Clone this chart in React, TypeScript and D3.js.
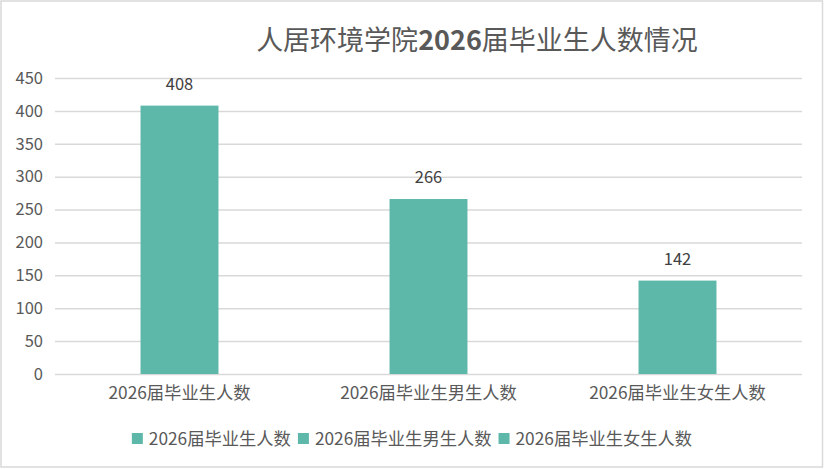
import { useEffect, useRef } from "react";
import * as d3 from "d3";

const categories = ["2026届毕业生人数", "2026届毕业生男生人数", "2026届毕业生女生人数"];
const values = [408, 266, 142];
const yTicks = [0, 50, 100, 150, 200, 250, 300, 350, 400, 450];
const titleParts = [
  { text: "人居环境学院", bold: false },
  { text: "2026", bold: true },
  { text: "届毕业生人数情况", bold: false },
];

const W = 824;
const H = 469;
const FONT = "'Noto Sans CJK SC', 'Noto Sans', sans-serif";
const BAR = "#5db8aa";
const TEXT = "#595959";

export default function App() {
  const ref = useRef<SVGSVGElement>(null);

  useEffect(() => {
    const svg = d3.select(ref.current);
    svg.selectAll("*").remove();

    const margin = { left: 55, right: 22, top: 78, bottom: 95 };

    const x = d3
      .scaleBand()
      .domain(categories)
      .range([margin.left, W - margin.right])
      .paddingInner(0.687)
      .paddingOuter(0.3435);

    const y = d3.scaleLinear().domain([0, 450]).range([H - margin.bottom, margin.top]);

    svg.append("rect").attr("width", W).attr("height", H).attr("fill", "white");
    svg
      .append("rect")
      .attr("x", 1)
      .attr("y", 1)
      .attr("width", W - 2.5)
      .attr("height", H - 3)
      .attr("fill", "none")
      .attr("stroke", "#d9d9d9")
      .attr("stroke-width", 1.5);

    // title
    const title = svg
      .append("text")
      .attr("x", 477)
      .attr("y", 50)
      .attr("text-anchor", "middle")
      .attr("font-family", FONT)
      .attr("font-size", 27)
      .attr("fill", TEXT);
    titleParts.forEach((p) =>
      title
        .append("tspan")
        .attr("font-weight", p.bold ? 600 : 400)
        .text(p.text)
    );

    // y axis + grid
    svg
      .append("g")
      .attr("transform", `translate(${margin.left},0)`)
      .call(
        d3
          .axisLeft(y)
          .tickValues(yTicks)
          .tickSize(-(W - margin.left - margin.right))
          .tickPadding(12)
      )
      .call((g) => g.select(".domain").remove())
      .call((g) => g.selectAll(".tick line").attr("stroke", "#d9d9d9").attr("stroke-width", 1.5))
      .call((g) =>
        g
          .selectAll(".tick text")
          .attr("font-family", FONT)
          .attr("font-size", 16.5)
          .attr("fill", TEXT)
      );

    // bars
    svg
      .append("g")
      .selectAll("rect")
      .data(values)
      .join("rect")
      .attr("x", (_, i) => x(categories[i])!)
      .attr("y", (d) => y(d))
      .attr("width", x.bandwidth())
      .attr("height", (d) => y(0) - y(d))
      .attr("fill", BAR);

    // data labels
    svg
      .append("g")
      .selectAll("text")
      .data(values)
      .join("text")
      .attr("x", (_, i) => x(categories[i])! + x.bandwidth() / 2)
      .attr("y", (d) => y(d) - 16)
      .attr("text-anchor", "middle")
      .attr("font-family", FONT)
      .attr("font-size", 16.5)
      .attr("fill", "#404040")
      .text((d) => d);

    // x axis labels
    svg
      .append("g")
      .attr("transform", `translate(0,${y(0)})`)
      .call(d3.axisBottom(x).tickSize(0).tickPadding(13))
      .call((g) => g.select(".domain").remove())
      .call((g) =>
        g
          .selectAll(".tick text")
          .attr("font-family", FONT)
          .attr("font-size", 17.3)
          .attr("fill", TEXT)
      );

    // legend
    const legend = svg.append("g");
    const items = legend
      .selectAll("g")
      .data(categories)
      .join("g");
    items
      .append("rect")
      .attr("width", 11)
      .attr("height", 11)
      .attr("y", -12)
      .attr("fill", BAR);
    items
      .append("text")
      .attr("x", 17)
      .attr("y", 0)
      .attr("font-family", FONT)
      .attr("font-size", 17.3)
      .attr("fill", TEXT)
      .text((d) => d);
    let offset = 0;
    const widths: number[] = [];
    items.each(function () {
      const t = d3.select(this).select("text").node() as SVGTextElement;
      widths.push(17 + t.getComputedTextLength());
    });
    const gap = 7;
    const total = d3.sum(widths) + gap * (widths.length - 1);
    const start = 412 - total / 2;
    items.attr("transform", (_, i) => {
      const tx = start + offset;
      offset += widths[i] + gap;
      return `translate(${tx},445)`;
    });
  }, []);

  return (
    <div style={{ position: "absolute", left: 0, top: 0 }}>
      <svg ref={ref} width={W} height={H} style={{ display: "block" }} />
    </div>
  );
}
